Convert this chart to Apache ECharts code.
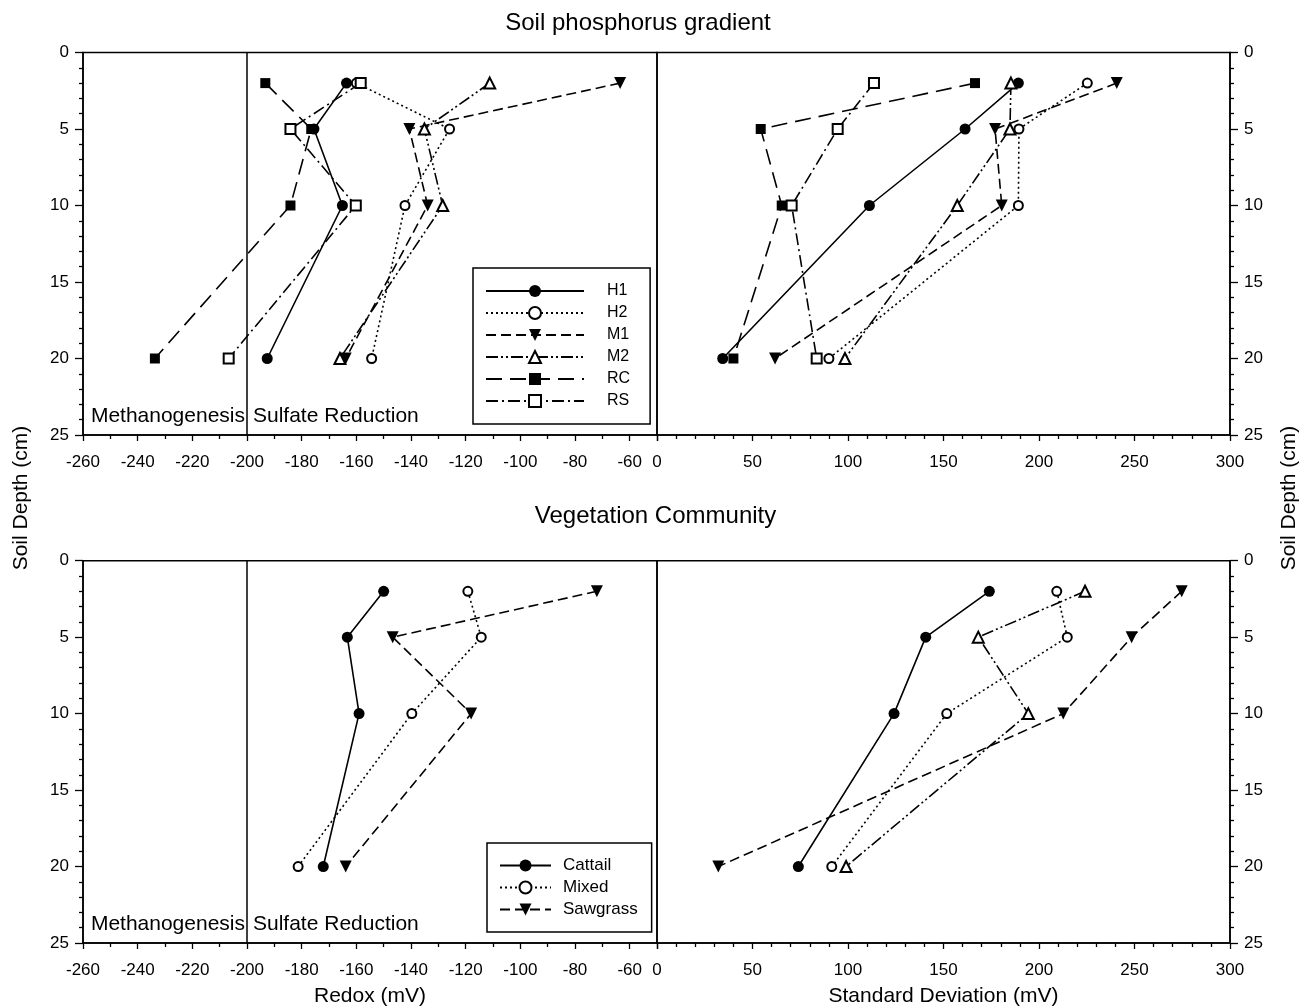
<!DOCTYPE html>
<html>
<head>
<meta charset="utf-8">
<script src="https://cdn.jsdelivr.net/npm/echarts@6/dist/echarts.min.js"></script>
<style>
  html, body { margin: 0; padding: 0; background: #fff; }
  #chart { width: 1307px; height: 1008px; }
</style>
</head>
<body>
<div id="chart"></div>
<script>
// Sampling depths (cm) shared by every profile
const depths = [2, 5, 10, 20];

// Soil phosphorus gradient: mean redox (mV) per site
const redoxH1 = [-163.6, -175.5, -165.1, -192.6];
const redoxH2 = [-160.0, -125.9, -142.2, -154.4];
const redoxM1 = [-63.5, -140.6, -133.9, -163.9];
const redoxM2 = [-111.2, -135.1, -128.4, -166.0];
const redoxRC = [-193.3, -176.5, -184.1, -233.7];
const redoxRS = [-158.4, -184.1, -160.2, -206.7];

// Soil phosphorus gradient: standard deviation of redox (mV)
const sdH1 = [189.2, 161.3, 111.2, 34.4];
const sdH2 = [225.3, 189.5, 189.2, 90.0];
const sdM1 = [240.7, 177.0, 180.5, 61.8];
const sdM2 = [185.3, 184.8, 157.2, 98.4];
const sdRC = [166.5, 54.3, 65.3, 40.0];
const sdRS = [113.6, 94.6, 70.5, 83.6];

// Vegetation community: mean redox (mV)
const redoxCattail = [-150.0, -163.3, -159.0, -172.1];
const redoxMixed = [-119.2, -114.3, -139.7, -181.3];
const redoxSawgrass = [-72.0, -146.7, -118.0, -163.9];

// Vegetation community: standard deviation (mV)
const sdCattail = [174.0, 140.7, 124.1, 74.0];
const sdMixed = [209.3, 214.8, 151.7, 91.5];
const sdSawgrass = [274.7, 248.5, 212.7, 32.1];
const sdExtra = [224.1, 168.2, 194.4, 99.0];

const siteNames = ['H1', 'H2', 'M1', 'M2', 'RC', 'RS'];
const vegNames = ['Cattail', 'Mixed', 'Sawgrass'];

// Depth axis ticks (cm)
const depthTicks = [0, 5, 10, 15, 20, 25];

// Redox zone boundary and its labels
const zoneBoundary = -200;
const zoneLabelDepth = 23.8;
const zoneLabels = ['Methanogenesis', 'Sulfate Reduction'];

const panelTitles = ['Soil phosphorus gradient', 'Vegetation Community'];
const depthTitle = 'Soil Depth (cm)';
const redoxTitle = 'Redox (mV)';
const sdTitle = 'Standard Deviation (mV)';

const FONT = '"Liberation Sans", Arial, Helvetica, sans-serif';
const INK = '#000';

// Line dash / marker per profile
const looks = {
  H1:       { dash: 'solid',             symbol: 'circle',        size: 11 },
  H2:       { dash: [2, 3],              symbol: 'emptyCircle',   size: 9 },
  M1:       { dash: [10, 5],             symbol: 'triangle',      size: 12, rotate: 180 },
  M2:       { dash: [12, 3, 2, 3, 2, 3], symbol: 'emptyTriangle', size: 11 },
  RC:       { dash: [16, 8],             symbol: 'rect',          size: 10 },
  RS:       { dash: [12, 4, 2, 4],       symbol: 'emptyRect',     size: 10 },
  Cattail:  { dash: 'solid',             symbol: 'circle',        size: 11 },
  Mixed:    { dash: [2, 3],              symbol: 'emptyCircle',   size: 9 },
  Sawgrass: { dash: [10, 5],             symbol: 'triangle',      size: 12, rotate: 180 },
  Extra:    { dash: [12, 3, 2, 3, 2, 3], symbol: 'emptyTriangle', size: 11 }
};

function profile(name, values, axisIndex) {
  const lk = looks[name];
  const hollow = lk.symbol.indexOf('empty') === 0;
  return {
    type: 'line',
    name: name,
    xAxisIndex: axisIndex,
    yAxisIndex: axisIndex,
    data: values.map((v, i) => [v, depths[i]]),
    symbol: lk.symbol,
    symbolSize: lk.size,
    symbolRotate: lk.rotate || 0,
    lineStyle: { color: INK, width: 1.6, type: lk.dash },
    itemStyle: { color: INK, borderColor: INK, borderWidth: hollow ? 1.5 : 0 },
    emphasis: { disabled: true },
    silent: true,
    animation: false
  };
}

// Vertical boundary at -200 mV with the zone names on either side
function zoneMarks(axisIndex) {
  const labelText = { color: INK, fontFamily: FONT, fontSize: 21, show: true };
  return {
    type: 'scatter',
    xAxisIndex: axisIndex,
    yAxisIndex: axisIndex,
    symbolSize: 0,
    silent: true,
    animation: false,
    itemStyle: { color: INK, opacity: 1 },
    data: [
      { value: [zoneBoundary, zoneLabelDepth],
        label: Object.assign({ formatter: zoneLabels[0], position: 'left', distance: 2 }, labelText) },
      { value: [zoneBoundary, zoneLabelDepth],
        label: Object.assign({ formatter: zoneLabels[1], position: 'right', distance: 6 }, labelText) }
    ],
    label: labelText,
    markLine: {
      silent: true,
      symbol: 'none',
      animation: false,
      label: { show: false },
      lineStyle: { color: INK, width: 1.5, type: 'solid', opacity: 1 },
      data: [{ xAxis: zoneBoundary }]
    }
  };
}

const gridTops = [52.5, 560.7];
const gridHeight = 382.5;
const grids = [];
gridTops.forEach(top => {
  grids.push({ left: 83, top: top, width: 574, height: gridHeight,
               show: true, borderColor: INK, borderWidth: 1.5, backgroundColor: 'transparent' });
  grids.push({ left: 657, top: top, width: 573, height: gridHeight,
               show: true, borderColor: INK, borderWidth: 1.5, backgroundColor: 'transparent' });
});

const tickLabel = { color: INK, fontFamily: FONT, fontSize: 17 };

function redoxAxis(gridIndex, withName) {
  return {
    type: 'value', gridIndex: gridIndex, position: 'bottom',
    min: -260, max: -50, interval: 20,
    axisLine: { show: true, onZero: false, lineStyle: { color: INK, width: 1.5 } },
    axisTick: { show: true, length: 6, lineStyle: { color: INK, width: 1.3 } },
    minorTick: { show: true, splitNumber: 2, length: 4, lineStyle: { color: INK, width: 1.3 } },
    axisLabel: Object.assign({ margin: 19, showMaxLabel: false }, tickLabel),
    splitLine: { show: false },
    name: withName ? redoxTitle : '',
    nameLocation: 'middle', nameGap: 43,
    nameTextStyle: { color: INK, fontFamily: FONT, fontSize: 21 }
  };
}

function sdAxis(gridIndex, withName) {
  return {
    type: 'value', gridIndex: gridIndex, position: 'bottom',
    min: 0, max: 300, interval: 50,
    axisLine: { show: true, onZero: false, lineStyle: { color: INK, width: 1.5 } },
    axisTick: { show: true, length: 6, lineStyle: { color: INK, width: 1.3 } },
    minorTick: { show: true, splitNumber: 5, length: 4, lineStyle: { color: INK, width: 1.3 } },
    axisLabel: Object.assign({ margin: 19 }, tickLabel),
    splitLine: { show: false },
    name: withName ? sdTitle : '',
    nameLocation: 'middle', nameGap: 43,
    nameTextStyle: { color: INK, fontFamily: FONT, fontSize: 21 }
  };
}

function depthAxis(gridIndex, side) {
  return {
    type: 'value', gridIndex: gridIndex, position: side, inverse: true,
    min: depthTicks[0], max: depthTicks[depthTicks.length - 1],
    interval: depthTicks[1] - depthTicks[0],
    axisLine: { show: true, onZero: false, lineStyle: { color: INK, width: 1.5 } },
    axisTick: { show: true, length: 8, lineStyle: { color: INK, width: 1.3 } },
    minorTick: { show: true, splitNumber: 5, length: 4, lineStyle: { color: INK, width: 1.3 } },
    axisLabel: Object.assign({ margin: 14 }, tickLabel),
    splitLine: { show: false }
  };
}

const series = [
  zoneMarks(0),
  profile('H1', redoxH1, 0), profile('H2', redoxH2, 0), profile('M1', redoxM1, 0),
  profile('M2', redoxM2, 0), profile('RC', redoxRC, 0), profile('RS', redoxRS, 0),
  profile('H1', sdH1, 1), profile('H2', sdH2, 1), profile('M1', sdM1, 1),
  profile('M2', sdM2, 1), profile('RC', sdRC, 1), profile('RS', sdRS, 1),
  zoneMarks(2),
  profile('Cattail', redoxCattail, 2), profile('Mixed', redoxMixed, 2), profile('Sawgrass', redoxSawgrass, 2),
  profile('Cattail', sdCattail, 3), profile('Mixed', sdMixed, 3), profile('Sawgrass', sdSawgrass, 3),
  profile('Extra', sdExtra, 3)
];

const legendBox = {
  orient: 'vertical',
  selectedMode: false,
  backgroundColor: '#fff',
  borderColor: INK,
  borderWidth: 1.5,
  borderRadius: 0,
  itemHeight: 15,
  z: 10
};

const option = {
  animation: false,
  backgroundColor: '#fff',
  grid: grids,
  xAxis: [redoxAxis(0, false), sdAxis(1, false), redoxAxis(2, true), sdAxis(3, true)],
  yAxis: [depthAxis(0, 'left'), depthAxis(1, 'right'), depthAxis(2, 'left'), depthAxis(3, 'right')],
  legend: [
    Object.assign({}, legendBox, {
      data: siteNames, left: 473, top: 268,
      padding: [15, 20, 15, 12], itemWidth: 98, itemGap: 6,
      textStyle: { color: INK, fontFamily: FONT, fontSize: 16, padding: [0, 0, 0, 18] }
    }),
    Object.assign({}, legendBox, {
      data: vegNames, left: 487, top: 843,
      padding: [14, 14, 14, 12], itemWidth: 51, itemGap: 5,
      textStyle: { color: INK, fontFamily: FONT, fontSize: 17, padding: [0, 0, 0, 7] }
    })
  ],
  graphic: [
    { type: 'text', x: 638, y: 23, silent: true,
      style: { text: panelTitles[0], font: '24px ' + FONT, fill: INK, align: 'center', verticalAlign: 'middle' } },
    { type: 'text', x: 655.5, y: 516, silent: true,
      style: { text: panelTitles[1], font: '24px ' + FONT, fill: INK, align: 'center', verticalAlign: 'middle' } },
    { type: 'text', x: 21, y: 498, rotation: Math.PI / 2, silent: true,
      style: { text: depthTitle, font: '21px ' + FONT, fill: INK, align: 'center', verticalAlign: 'middle' } },
    { type: 'text', x: 1289, y: 498, rotation: Math.PI / 2, silent: true,
      style: { text: depthTitle, font: '21px ' + FONT, fill: INK, align: 'center', verticalAlign: 'middle' } }
  ],
  series: series
};

const chart = echarts.init(document.getElementById('chart'), null, { renderer: 'canvas' });
chart.setOption(option);
</script>
</body>
</html>
